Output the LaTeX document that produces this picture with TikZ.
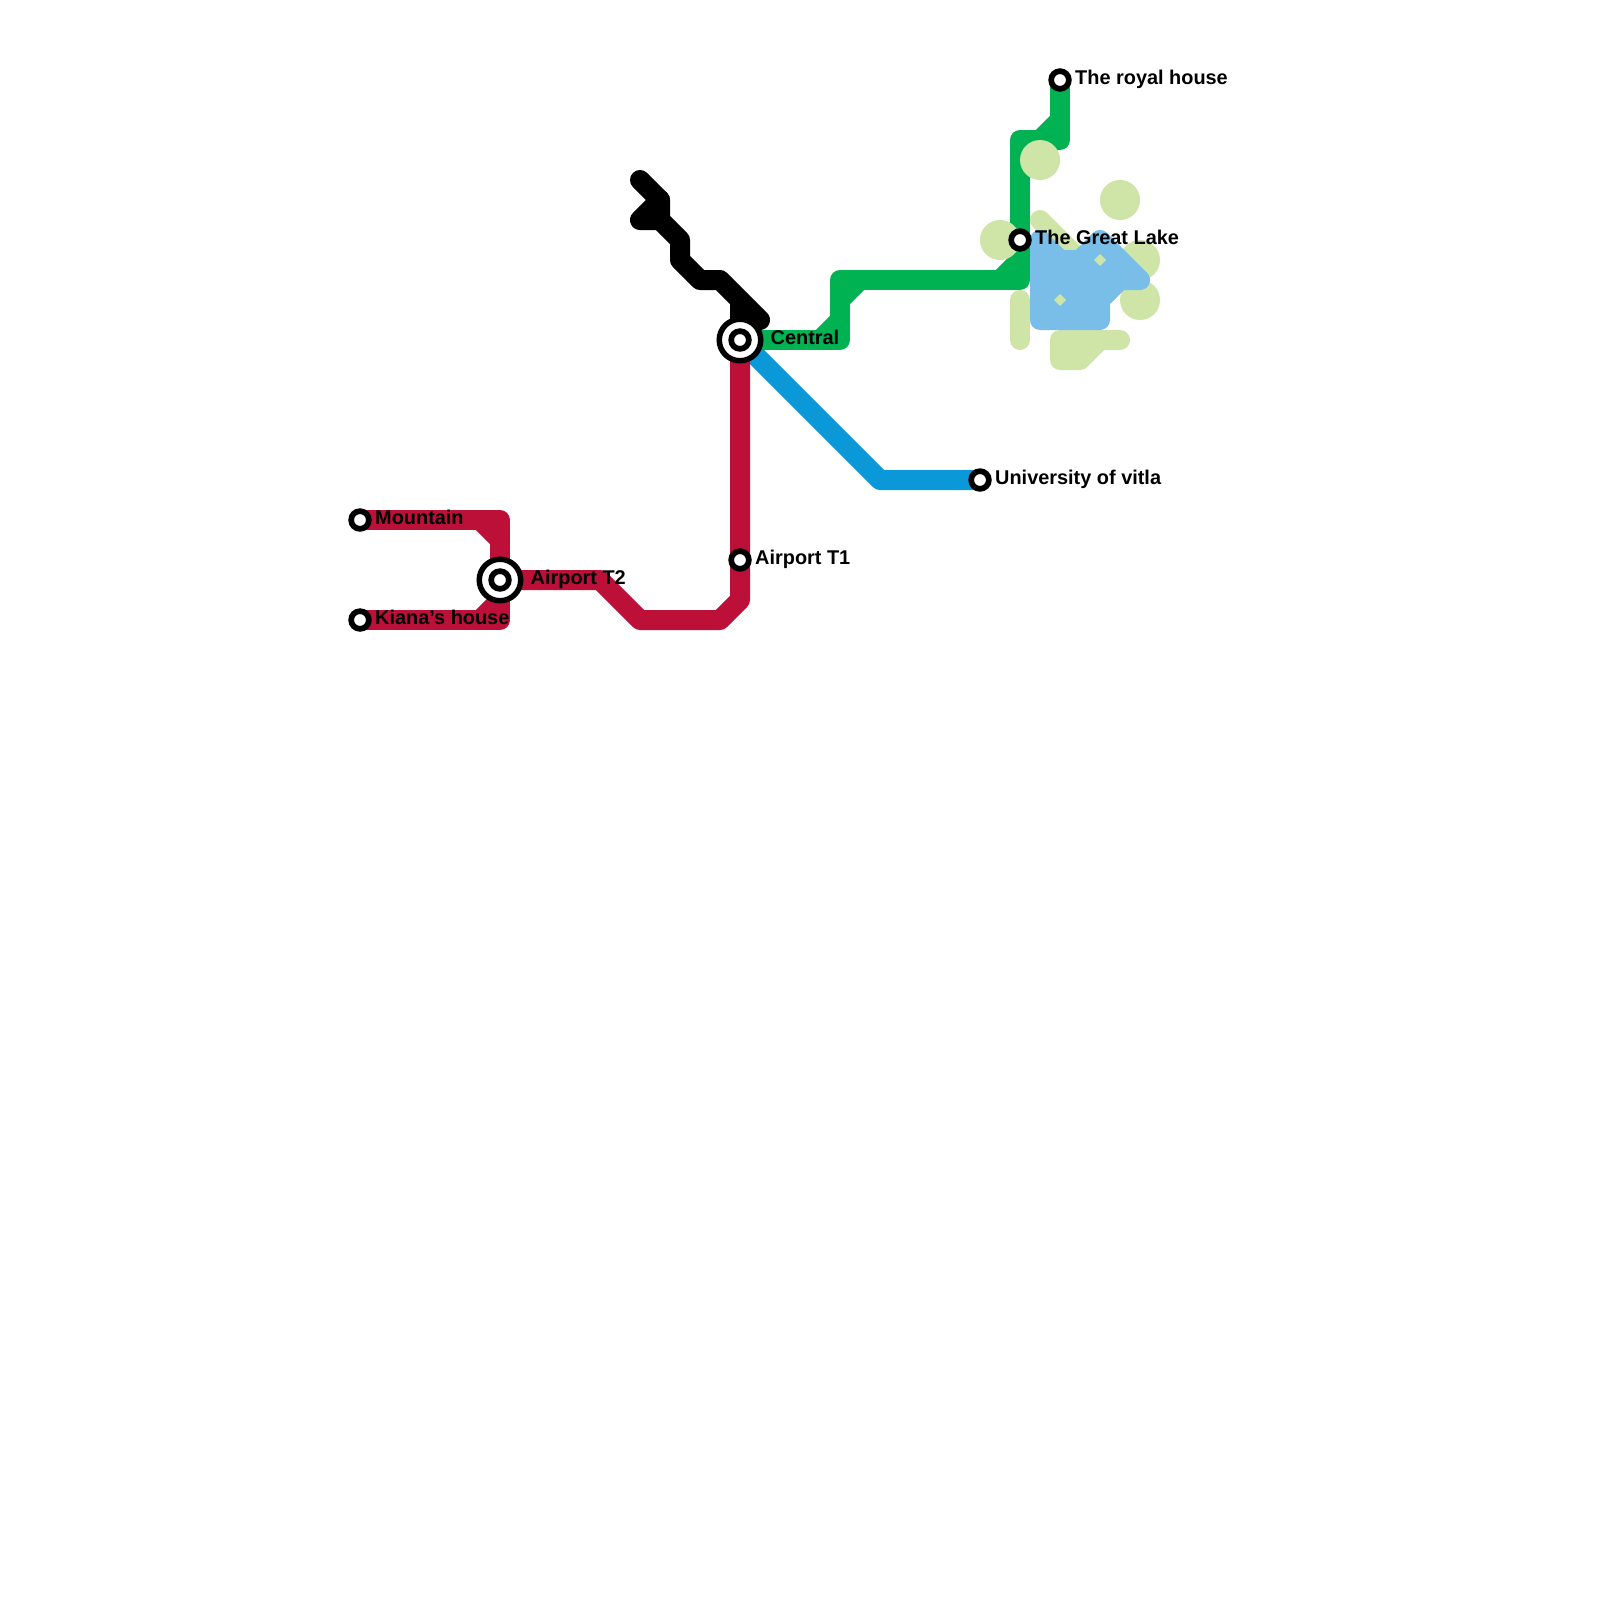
\documentclass[tikz,border=0pt]{standalone}
\usepackage{fontspec}
\setmainfont{Liberation Sans}
\definecolor{redline}{HTML}{BD1038}
\definecolor{greenline}{HTML}{00B251}
\definecolor{blueline}{HTML}{0B98D9}
\definecolor{lake}{HTML}{79BDE9}
\definecolor{park}{HTML}{CFE4A7}
\tikzset{
  x=1pt,y=-1pt,
  metro/.style={line width=20pt,line cap=round,line join=round},
  parkdisc/.style={fill=park},
  stn/.style={circle,draw=black,fill=white,line width=5.7pt,inner sep=0pt,minimum size=17.7pt},
  hub/.style={circle,draw=black,fill=white,line width=5.5pt,inner sep=0pt,minimum size=41.5pt},
  lbl/.style={anchor=base west,inner sep=0pt,text=black,font=\fontsize{19.9}{21}\selectfont\bfseries},
}
\begin{document}
\begin{tikzpicture}
\useasboundingbox (0,0) rectangle (1600,1600);
\fill[white] (0,0) rectangle (1600,1600);
\coordinate (pMountain) at (360,520);
\coordinate (pKiana) at (360,620);
\coordinate (pT2) at (500,580);
\coordinate (pT1) at (740,560);
\coordinate (pCentral) at (740,340);
\coordinate (pUni) at (980,480);
\coordinate (pLake) at (1020,240);
\coordinate (pRoyal) at (1060,80);
% black line
\draw[metro,black] (640,180) -- (660,200) -- (660,220) -- (680,240) -- (680,260) -- (700,280) -- (720,280) -- (760,320) -- (740,320) -- (740,300) -- (740,340);
\draw[metro,black] (660,200) -- (640,220) -- (660,220);
% blue line
\draw[metro,blueline] (pCentral) -- (880,480) -- (pUni);
% red line
\draw[metro,redline] (pMountain) -- (500,520) -- (pT2) -- (500,620) -- (pKiana);
\draw[metro,redline] (480,520) -- (500,540);
\draw[metro,redline] (500,600) -- (480,620);
\draw[metro,redline] (pT2) -- (600,580) -- (640,620) -- (720,620) -- (740,600) -- (pT1) -- (pCentral);
% green line
\draw[metro,greenline] (pCentral) -- (840,340) -- (840,280) -- (1020,280) -- (pLake) -- (1020,140) -- (1060,140) -- (pRoyal);
\draw[metro,greenline] (820,340) -- (840,320);
\draw[metro,greenline] (840,300) -- (860,280);
\draw[metro,greenline] (1000,280) -- (1020,260);
\draw[metro,greenline] (1040,140) -- (1060,120);
% parks
\fill[parkdisc] (1040,160) circle[radius=20];
\fill[parkdisc] (1120,200) circle[radius=20];
\fill[parkdisc] (1000,240) circle[radius=20];
\fill[parkdisc] (1140,260) circle[radius=20];
\fill[parkdisc] (1140,300) circle[radius=20];
\draw[metro,park] (1040,220) -- (1080,260);
\draw[metro,park] (1020,300) -- (1020,340);
\draw[metro,park,fill=park] (1060,340) -- (1120,340) -- (1100,340) -- (1080,360) -- (1060,360) -- cycle;
% lake
\draw[metro,lake,fill=lake] (1040,240) -- (1060,260) -- (1080,260) -- (1100,240) -- (1140,280) -- (1120,280) -- (1100,300) -- (1100,320) -- (1040,320) -- cycle;
\fill[park] (1100,254) -- (1106,260) -- (1100,266) -- (1094,260) -- cycle;
\fill[park] (1060,294) -- (1066,300) -- (1060,306) -- (1054,300) -- cycle;
% stations
\node[stn] (sMountain) at (pMountain) {};
\node[stn] (sKiana) at (pKiana) {};
\node[stn] (sT1) at (pT1) {};
\node[stn] (sUni) at (pUni) {};
\node[stn] (sLake) at (pLake) {};
\node[stn] (sRoyal) at (pRoyal) {};
\node[hub] (hT2) at (pT2) {};
\node[stn] (sT2) at (pT2) {};
\node[hub] (hCentral) at (pCentral) {};
\node[stn] (sCentral) at (pCentral) {};
% labels
\node[lbl] (lMountain) at (375,524.5) {Mountain};
\node[lbl] (lKiana) at (375,624.5) {Kiana’s house};
\node[lbl] (lT2) at (530.5,584.5) {Airport T2};
\node[lbl] (lT1) at (755,564.5) {Airport T1};
\node[lbl] (lCentral) at (770.5,344.5) {Central};
\node[lbl] (lUni) at (995,484.5) {University of vitla};
\node[lbl] (lLake) at (1035,244.5) {The Great Lake};
\node[lbl] (lRoyal) at (1075,84.5) {The royal house};
\end{tikzpicture}
\end{document}
